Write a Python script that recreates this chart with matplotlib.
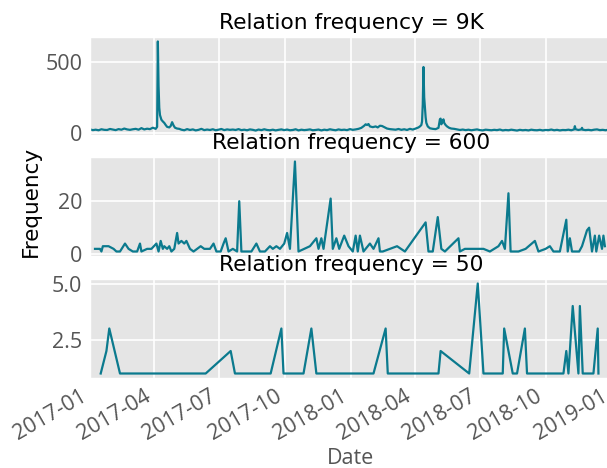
import numpy as np
import pandas as pd
import matplotlib
matplotlib.use("Agg")
import matplotlib.pyplot as plt
import matplotlib.dates as mdates
from matplotlib.ticker import MultipleLocator

# ---------------- data (day offsets from 2017-01-01) ----------------
start = "2017-01-01"

top_days = [0, 4, 8, 12, 16, 20, 24, 28, 32, 36, 40, 44, 48, 52, 56, 60, 64, 68, 72, 76, 80, 84, 88, 92,
            94, 95, 96, 97, 98, 100, 102, 104, 106, 108, 111, 113, 115, 117, 119, 122, 125,
            128, 132, 136, 140, 144, 148, 152, 156, 160, 164, 168, 172, 176, 180, 184, 188, 192, 196,
            200, 204, 208, 212, 216, 220, 224, 228, 232, 236, 240, 244, 248, 252, 256, 260, 264, 268,
            272, 276, 280, 284, 288, 292, 296, 300, 304, 308, 312, 316, 320, 324, 328, 332, 336, 340,
            344, 348, 352, 356, 360, 364, 368, 372,
            376, 380, 384, 386, 388, 390, 392, 396, 400, 403, 406, 409, 412, 416, 420,
            424, 428, 432, 436, 440, 444, 448, 452, 456, 460,
            462, 464, 465, 466, 467, 468, 469, 470, 471, 473, 476, 480, 484, 488, 490, 491, 492, 494,
            495, 496, 498, 500, 503, 506, 510,
            514, 518, 522, 526, 530, 534, 538, 542, 546, 550, 554, 558, 562, 566, 570, 574, 578, 582,
            586, 590, 594, 598, 602, 606, 610, 614, 618, 622, 626, 630, 634, 638, 642, 646, 650, 654,
            658, 662, 666, 670, 674, 678, 679, 680, 684, 688, 689, 690, 694, 698, 702, 706, 710, 714,
            718, 722, 726, 731]
top_vals = [24, 19, 22, 18, 25, 21, 20, 27, 23, 19, 26, 22, 30, 24, 21, 25, 28, 22, 33, 24, 29, 26, 36, 28,
            42, 644, 330, 177, 125, 92, 80, 70, 55, 42, 38, 48, 75, 52, 36, 30, 28,
            22, 18, 26, 20, 24, 17, 21, 28, 19, 23, 20, 25, 18, 22, 27, 19, 24, 21,
            23, 20, 26, 19, 22, 18, 24, 21, 16, 23, 19, 25, 20, 18, 22, 17, 21, 24,
            19, 23, 18, 20, 25, 17, 22, 19, 21, 24, 18, 20, 23, 17, 22, 19, 25, 21,
            18, 24, 20, 22, 19, 26, 21, 24,
            28, 35, 50, 60, 55, 62, 45, 40, 45, 38, 50, 48, 40, 30, 26,
            24, 22, 27, 21, 25, 20, 28, 23, 30, 38,
            45, 55, 80, 200, 464, 250, 177, 110, 70, 45, 32, 28, 26, 35, 95, 100, 60, 85,
            95, 70, 55, 45, 35, 30, 28,
            24, 20, 23, 19, 22, 18, 21, 24, 19, 17, 22, 20, 18, 21, 19, 23, 17, 20,
            18, 22, 19, 16, 21, 18, 20, 17, 22, 19, 18, 21, 17, 20, 19, 23, 18, 21,
            17, 20, 19, 22, 18, 24, 47, 25, 20, 24, 35, 22, 19, 21, 18, 22, 24, 19,
            21, 18, 22, 20]

mid_days = [7, 14, 16, 18, 26, 33, 37, 42, 49, 54, 60, 66, 70, 72, 80, 86, 93, 96, 99, 102, 104, 108,
            111, 114, 118, 122, 124, 128, 132, 135, 140, 145, 150, 155, 160, 168, 173, 177, 183, 187,
            190, 194, 200, 206, 209, 212, 220, 226, 233, 238, 245, 252, 256, 261, 266, 272, 276, 280,
            287, 292, 308, 317, 320, 324, 327, 337, 340, 345, 349, 356, 362, 368, 372, 375, 378, 383,
            392, 397, 404, 406, 410, 430, 441, 470, 474, 480, 487, 492, 497, 516, 518, 525, 532, 540,
            551, 560, 572, 577, 581, 586, 589, 600, 610, 623, 628, 638, 644, 649, 658, 667, 669, 672,
            675, 685, 689, 696, 699, 703, 707, 709, 713, 717, 719, 721]
mid_vals = [2, 2, 1, 3, 3, 2, 1, 1, 4, 2, 1, 1, 4, 1, 2, 2, 4, 1, 5, 2, 3, 2,
            3, 1, 2, 8, 4, 5, 4, 5, 2, 1, 2, 3, 2, 2, 4, 1, 1, 4,
            6, 1, 2, 1, 20, 1, 1, 1, 4, 1, 1, 3, 2, 3, 2, 4, 8, 2,
            35, 1, 3, 6, 2, 6, 2, 21, 2, 6, 2, 7, 3, 1, 7, 1, 7, 1,
            4, 2, 6, 1, 1, 3, 1, 12, 1, 1, 14, 2, 1, 6, 1, 2, 2, 2,
            2, 1, 3, 5, 2, 23, 1, 1, 2, 5, 1, 2, 3, 1, 1, 13, 1, 6,
            1, 1, 3, 9, 10, 1, 7, 1, 7, 2, 7, 3]

low_days = [15, 23, 27, 42, 162, 197, 203, 253, 268, 271, 299, 310, 317, 397, 414, 417, 488, 491,
            531, 543, 551, 578, 580, 592, 598, 609, 612, 663, 667, 670, 676, 684, 686, 690, 705,
            711, 712]
low_vals = [1, 2, 3, 1, 1, 2, 1, 1, 3, 1, 1, 3, 1, 1, 3, 1, 1, 2,
            1, 5, 1, 1, 3, 1, 1, 3, 1, 1, 2, 1, 4, 1, 4, 1, 1,
            3, 1]

titles = ["Relation frequency = 9K", "Relation frequency = 600", "Relation frequency = 50"]
series = [(top_days, top_vals), (mid_days, mid_vals), (low_days, low_vals)]
ytick_steps = [500, 20, 2.5]

# ---------------- figure ----------------
plt.style.use("ggplot")
LINE = "#0b7a8e"
TICKFONT = "Open Sans"
TICKSIZE = 15.5

fig = plt.figure(figsize=(6.07, 4.68), dpi=100)
W, H = 607, 468
panels = [(37, 135), (157, 256), (279, 378)]
left_px, right_px = 90, 612
origin = pd.Timestamp(start)
xlim = (origin, origin + pd.Timedelta(days=731))

axes = []
for i, (ytop, ybot) in enumerate(panels):
    ax = fig.add_axes([left_px / W, 1 - ybot / H, (right_px - left_px) / W, (ybot - ytop) / H])
    d, v = series[i]
    dates = origin + pd.to_timedelta(np.array(d, dtype=float), unit="D")
    ax.plot(dates, v, color=LINE, lw=1.6)
    ax.set_xlim(xlim)
    ax.set_title(titles[i], fontsize=15.7, color="black", family="DejaVu Sans", pad=6)
    ax.yaxis.set_major_locator(MultipleLocator(ytick_steps[i]))
    ax.xaxis.set_major_locator(mdates.MonthLocator(bymonth=[1, 4, 7, 10]))
    ax.xaxis.set_major_formatter(mdates.DateFormatter("%Y-%m"))
    ax.tick_params(axis="both", length=0, pad=5.5, labelsize=TICKSIZE, colors="#555555")
    for lab in ax.get_yticklabels():
        lab.set_family(TICKFONT)
    ax.grid(True, color="white", lw=1.2)
    if i < 2:
        ax.tick_params(axis="x", labelbottom=False)
    axes.append(ax)

ax = axes[-1]
for lab in ax.get_xticklabels():
    lab.set_rotation(30)
    lab.set_ha("right")
    lab.set_family(TICKFONT)
ax.set_xlabel("Date", fontsize=TICKSIZE, color="#555555", family=TICKFONT, labelpad=3)

fig.text(31 / W, 1 - 201.5 / H, "Frequency", rotation=90, ha="center", va="center",
         fontsize=15.5, color="black", family="DejaVu Sans")

fig.savefig("out.png", dpi=100)
